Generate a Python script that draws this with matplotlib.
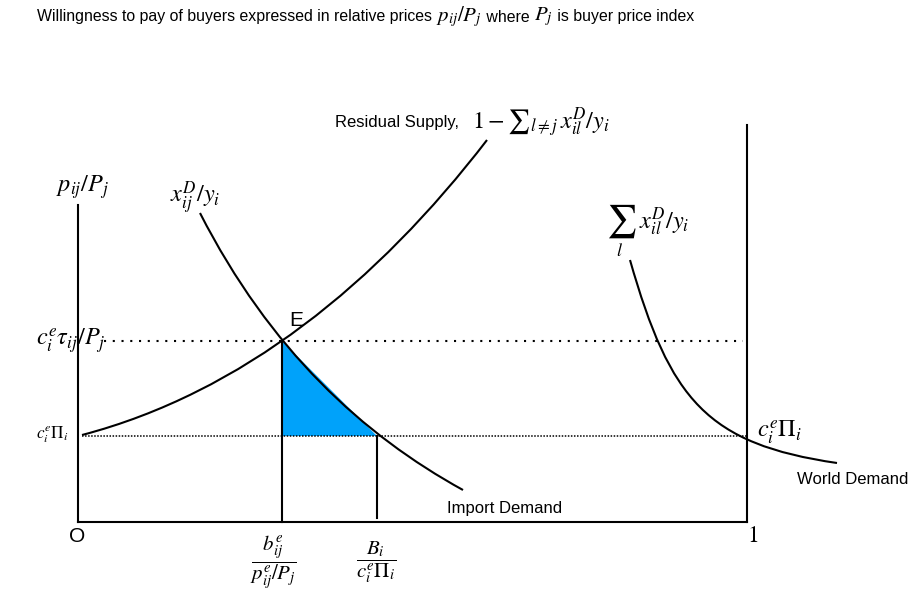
import matplotlib
matplotlib.use("Agg")
import matplotlib.pyplot as plt
from matplotlib.path import Path
from matplotlib.patches import PathPatch, Polygon

plt.rcParams['font.family'] = ['Liberation Sans', 'DejaVu Sans']
plt.rcParams['mathtext.fontset'] = 'stix'

# -----------------------------------------
# DIAGRAM DATA (picture units, y grows downward)
# -----------------------------------------
x_origin, x_one = 78, 747          # left axis and the "1" line
y_floor = 522                      # quantity axis
y_top_left, y_top_right = 205, 125

p_high = 341                       # c_i^e tau_ij / P_j
p_low = 436                        # c_i^e Pi_i
q_b = 282                          # b_ij^e / (p_ij^e/P_j)
q_B = 377                          # B_i / (c_i^e Pi_i)

# bezier control points
supply_x = [82, 242, 377, 487]
supply_y = [435, 393, 283, 140]
demand_x = [200, 270, 363, 463]
demand_y = [213, 350, 435, 490]
world_x = [630, 670, 707, 837]
world_y = [260, 400, 444, 463]

title_parts = ["Willingness to pay of buyers expressed in relative prices ",
               "$p_{ij}/P_j$", " where ", "$P_j$", " is buyer price index"]

fig = plt.figure(figsize=(9.1, 5.92), dpi=100)
ax = fig.add_axes([0, 0, 1, 1])
ax.set_xlim(0, 910)
ax.set_ylim(592, 0)
ax.axis('off')

# -----------------------------------------
# SURPLUS TRIANGLE
# -----------------------------------------
ax.add_patch(Polygon([(q_b, p_high), (q_b, p_low), (q_B, p_low)],
                     closed=True, facecolor='#00A2FA', edgecolor='none', zorder=1))

# -----------------------------------------
# AXES / GUIDES
# -----------------------------------------
lw = 1.5
ax.plot([x_origin, x_origin], [y_top_left, y_floor], color='black', lw=lw)
ax.plot([x_origin, x_one], [y_floor, y_floor], color='black', lw=lw)
ax.plot([x_one, x_one], [y_top_right, y_floor], color='black', lw=lw)
ax.plot([q_b, q_b], [p_high, y_floor], color='black', lw=lw)
ax.plot([q_B, q_B], [p_low, y_floor - 4], color='black', lw=lw)

ax.plot([104, 743], [p_high, p_high], color='black', lw=1.5, ls=(0, (1, 3.2)))
ax.plot([82, x_one], [p_low, p_low], color='black', lw=1.1, ls=(0, (1, 1.0)))

# -----------------------------------------
# CURVES
# -----------------------------------------
codes = [Path.MOVETO, Path.CURVE4, Path.CURVE4, Path.CURVE4]
for xs, ys in [(supply_x, supply_y), (demand_x, demand_y), (world_x, world_y)]:
    path = Path(list(zip(xs, ys)), codes)
    ax.add_patch(PathPatch(path, facecolor='none', edgecolor='black', lw=lw, zorder=3))

# -----------------------------------------
# TITLE (sans text with larger math pieces)
# -----------------------------------------
renderer = fig.canvas.get_renderer()
x = 37
for part in title_parts:
    size = 15 if part.startswith("$") else 11.4
    t = ax.text(x, 17, part, fontsize=size, va='center', ha='left')
    x = t.get_window_extent(renderer).x1

# -----------------------------------------
# LABELS
# -----------------------------------------
ax.text(56, 187, "$p_{ij}/P_j$", fontsize=17.5, va='center', ha='left')
ax.text(170, 198, "$x_{ij}^D/y_i$", fontsize=17.5, va='center', ha='left')
ax.text(335, 122, "Residual Supply,", fontsize=12, va='center', ha='left')
ax.text(472, 122, r"$1 - {\sum}_{l\neq j}\, x_{il}^D/y_i$", fontsize=17.5, va='center', ha='left')
ax.text(606, 221, r"$\sum$", fontsize=24, va='center', ha='left')
ax.text(620, 251, "$l$", fontsize=13, va='center', ha='center')
ax.text(639, 222, r"$x_{il}^D/y_i$", fontsize=17.5, va='center', ha='left')
ax.text(289, 320, "E", fontsize=15, va='center', ha='left')
ax.text(36, 341, r"$c_i^e\tau_{ij}/P_j$", fontsize=17.5, va='center', ha='left')
ax.text(36, 435, r"$c_i^e\Pi_i$", fontsize=12.3, va='center', ha='left')
ax.text(757, 432, r"$c_i^e\Pi_i$", fontsize=17.5, va='center', ha='left')
ax.text(797, 480, "World Demand", fontsize=12, va='center', ha='left')
ax.text(447, 508, "Import Demand", fontsize=12, va='center', ha='left')
ax.text(69, 537, "O", fontsize=15, va='center', ha='left')
ax.text(753, 536, "$1$", fontsize=17, va='center', ha='center')
ax.text(273, 562, r"$\dfrac{b_{ij}^e}{p_{ij}^e/P_j}$", fontsize=15, va='center', ha='center')
ax.text(376, 562, r"$\dfrac{B_i}{c_i^e\Pi_i}$", fontsize=15, va='center', ha='center')

fig.savefig("out.png", dpi=100)
